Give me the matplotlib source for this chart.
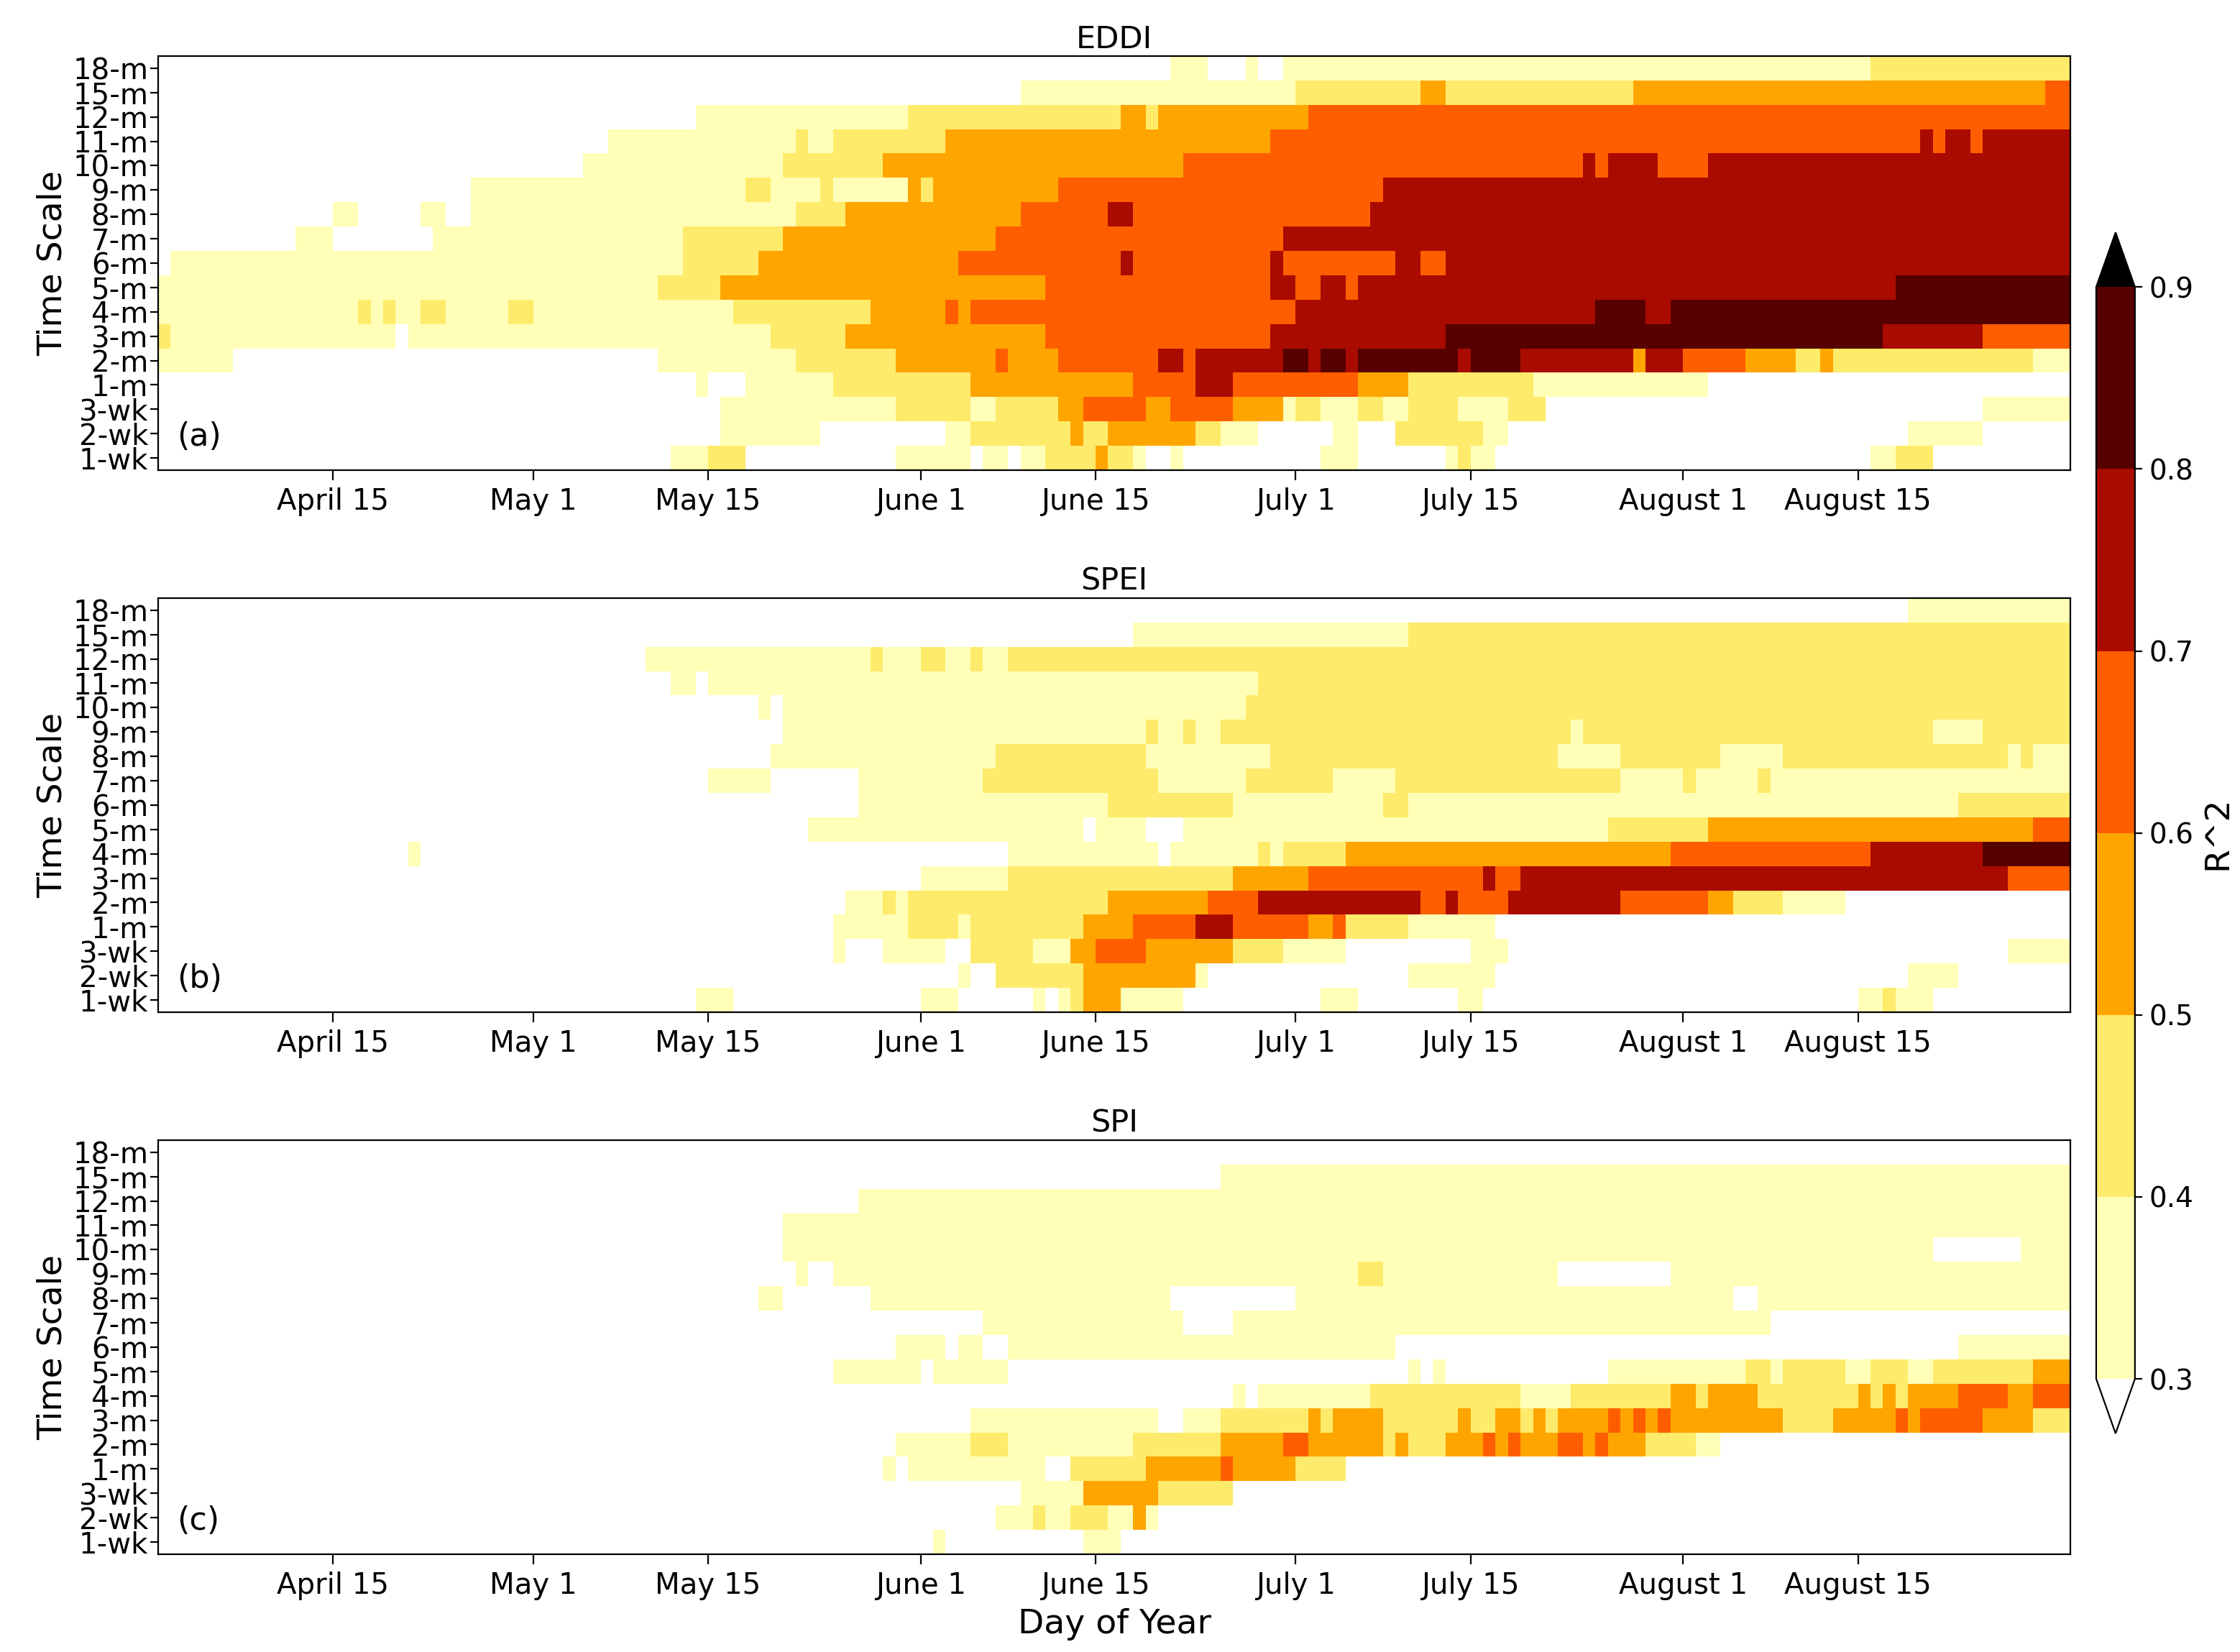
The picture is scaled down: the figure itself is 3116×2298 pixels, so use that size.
import numpy as np
import matplotlib
matplotlib.use("Agg")
import matplotlib.pyplot as plt
from matplotlib.colors import ListedColormap, BoundaryNorm

timescales = ["1-wk", "2-wk", "3-wk", "1-m", "2-m", "3-m", "4-m", "5-m", "6-m",
              "7-m", "8-m", "9-m", "10-m", "11-m", "12-m", "15-m", "18-m"]
tick_labels = ["April 15", "May 1", "May 15", "June 1", "June 15", "July 1",
               "July 15", "August 1", "August 15"]
tick_doy = [105, 121, 135, 152, 166, 182, 196, 213, 227]
first_doy = 91   # April 1
last_doy = 243   # August 31
panel_titles = ["EDDI", "SPEI", "SPI"]
panel_tags = ["(a)", "(b)", "(c)"]
levels = [0.3, 0.4, 0.5, 0.6, 0.7, 0.8, 0.9]

# Runs per timescale (bottom row 1-wk first): (days after April 1 where run starts, R^2)
eddi_runs = [
    [(0,.2),(41.3,.35),(44.2,.45),(47.2,.2),(59.1,.35),(65,.2),(66.2,.35),(68.2,.2),(69.2,.35),(71.2,.45),(74.7,.55),(75.7,.45),(78.1,.35),(79.1,.2),(81.1,.35),(82.1,.2),(93,.35),(96,.2),(102.9,.35),(103.9,.45),(104.9,.35),(106.9,.2),(136.6,.35),(138.6,.45),(141.6,.35),(142.5,.2)],
    [(0,.2),(45,.35),(52.9,.2),(55.8,.35),(56.3,.2),(63.3,.35),(65.2,.45),(73.2,.55),(74.2,.45),(76.1,.55),(83.1,.45),(85.1,.35),(88,.2),(94,.35),(96,.2),(99,.45),(105.9,.35),(107.9,.2),(139.6,.35),(146.5,.2)],
    [(0,.2),(45,.35),(58.8,.45),(65.2,.35),(67.2,.45),(72.2,.55),(74.2,.65),(79.1,.55),(81.1,.65),(86.1,.55),(90,.35),(91,.45),(93,.35),(96,.45),(98,.35),(99.9,.45),(103.9,.35),(107.9,.45),(110.8,.2),(146.5,.35)],
    [(0,.2),(43,.35),(44.4,.2),(46.9,.35),(53.8,.45),(64.7,.55),(78.1,.65),(83.1,.75),(86.1,.65),(96,.55),(99.9,.45),(109.8,.35),(123.7,.2)],
    [(0,.35),(6.3,.2),(40,.35),(50.9,.45),(58.8,.55),(67.2,.65),(67.7,.55),(72.2,.65),(80.1,.75),(82.1,.65),(83.1,.75),(90,.85),(92,.75),(93,.85),(95,.75),(96,.85),(103.9,.75),(104.9,.85),(108.8,.75),(117.8,.55),(118.7,.75),(121.7,.65),(126.7,.55),(130.7,.45),(132.6,.55),(133.6,.45),(150.5,.35)],
    [(0,.45),(1,.35),(19.2,.2),(20.2,.35),(49.4,.45),(55.3,.55),(71.2,.65),(89,.75),(103,.85),(137.6,.75),(145.5,.65)],
    [(0,.35),(16.2,.45),(17.2,.35),(18.2,.45),(19.2,.35),(21.1,.45),(23.1,.35),(28.1,.45),(30.1,.35),(46,.45),(57.3,.55),(63.3,.65),(64.3,.55),(65.3,.65),(91,.75),(114.8,.85),(118.7,.75),(120.7,.85)],
    [(0,.35),(21.6,.45),(22.1,.35),(40,.45),(45,.55),(71.2,.65),(89,.75),(91,.65),(93,.75),(95,.65),(96,.75),(138.6,.85)],
    [(0,.2),(1.3,.35),(42.5,.45),(48.4,.55),(64.2,.65),(77.1,.75),(78.1,.65),(89,.75),(90,.65),(99.4,.75),(101,.65),(103,.75)],
    [(0,.2),(11.2,.35),(14.2,.2),(22.1,.35),(41.5,.45),(50.4,.55),(67.2,.65),(90,.75)],
    [(0,.2),(14.2,.35),(16.2,.2),(21.4,.35),(22.6,.2),(24.8,.35),(51.4,.45),(55.3,.55),(69.2,.65),(76.1,.75),(78.1,.65),(97,.75)],
    [(0,.2),(24.6,.35),(47.4,.45),(49,.35),(53,.45),(54.3,.35),(60,.55),(61,.45),(62,.55),(72,.65),(98,.75)],
    [(0,.2),(34.5,.35),(50,.45),(58,.55),(82,.65),(114,.75),(115,.65),(116,.75),(120,.65),(124,.75)],
    [(0,.2),(35.5,.35),(51,.45),(52,.35),(54,.45),(63,.55),(89,.65),(141,.75),(142,.65),(143,.75),(145,.65),(146,.75)],
    [(0,.2),(43.4,.35),(60,.45),(77,.55),(79,.45),(80,.55),(92,.65)],
    [(0,.2),(69,.35),(91,.45),(101,.55),(103,.45),(118,.55),(151,.65)],
    [(0,.2),(81,.35),(84,.2),(87,.35),(88,.2),(90,.35),(137,.45)],
]

spei_runs = [
    [(0,.2),(43.2,.35),(46.2,.2),(61.1,.35),(64.1,.2),(70,.35),(71,.2),(72,.35),(73,.45),(74.2,.55),(77.1,.35),(82.1,.2),(93,.35),(96,.2),(103.9,.35),(105.9,.2),(135.6,.35),(137.6,.45),(138.6,.35),(141.6,.2)],
    [(0,.2),(64.1,.35),(65,.2),(67,.45),(74.2,.55),(83.1,.35),(84.1,.2),(99.9,.35),(106.9,.2),(139.6,.35),(144.5,.2)],
    [(0,.2),(54.2,.35),(54.9,.2),(58.1,.35),(63.3,.2),(65,.45),(70,.35),(73,.55),(75,.65),(78.9,.55),(86.1,.45),(90,.35),(95,.2),(104.9,.35),(107.9,.2),(148,.35)],
    [(0,.2),(54.1,.35),(60.3,.45),(64.3,.35),(65,.45),(74.2,.55),(78.1,.65),(83.1,.75),(86.1,.65),(92,.55),(94,.65),(95,.45),(99.9,.35),(106.9,.2)],
    [(0,.2),(55.1,.35),(58.3,.45),(58.8,.35),(60.3,.45),(76.1,.55),(84.1,.65),(88,.75),(100.9,.65),(102.9,.75),(103.9,.65),(107.9,.75),(116.8,.65),(123.7,.55),(125.7,.45),(129.7,.35),(134.6,.2)],
    [(0,.2),(61.1,.35),(68,.45),(86.1,.55),(92,.65),(105.9,.75),(106.9,.65),(108.8,.75),(141.6,.85),(142.5,.75),(148.5,.65)],
    [(0,.2),(20.2,.35),(21.1,.2),(68,.35),(80.1,.2),(81.1,.35),(88,.45),(89,.35),(90,.45),(95,.55),(120.7,.65),(136.6,.75),(145.5,.85)],
    [(0,.2),(52.2,.35),(74.2,.2),(75.2,.35),(79.1,.2),(82.1,.35),(115.8,.45),(123.7,.55),(149.5,.65)],
    [(0,.2),(56.1,.35),(75.9,.45),(86.1,.35),(98,.45),(99.9,.35),(144.5,.45)],
    [(0,.2),(44.2,.35),(49.2,.2),(56.1,.35),(66,.45),(79.9,.35),(87,.45),(94,.35),(98.9,.45),(116.8,.35),(122.2,.45),(122.7,.35),(127.7,.45),(128.7,.35)],
    [(0,.2),(49.2,.35),(67.2,.45),(79.1,.35),(89,.45),(111.8,.35),(116.8,.45),(124.7,.35),(129.7,.45),(148,.35),(149,.45),(150.5,.35)],
    [(0,.2),(50.2,.35),(79.1,.45),(80.1,.35),(82.1,.45),(83.1,.35),(85.1,.45),(112.8,.35),(113.8,.45),(142.5,.35),(145.5,.45)],
    [(0,.2),(48.2,.35),(48.9,.2),(50.2,.35),(87,.45)],
    [(0,.2),(41.3,.35),(43,.2),(44.2,.35),(88,.45)],
    [(0,.2),(39.3,.35),(57.3,.45),(58.1,.35),(61.1,.45),(63.1,.35),(65.1,.45),(66,.35),(68,.45)],
    [(0,.2),(78.1,.35),(99.9,.45)],
    [(0,.2),(139.5,.35)],
]

spi_runs = [
    [(0,.2),(62.1,.35),(63.1,.2),(74,.35),(77,.2)],
    [(0,.2),(67,.35),(70,.45),(71,.35),(73,.45),(75.9,.35),(77.9,.55),(78.9,.35),(79.9,.2)],
    [(0,.2),(69,.35),(74,.55),(79.9,.45),(85.9,.2)],
    [(0,.2),(58.1,.35),(59.1,.2),(60.1,.35),(71,.2),(73,.45),(78.9,.55),(84.9,.65),(85.9,.55),(91,.45),(95,.2)],
    [(0,.2),(59.1,.35),(65,.45),(68,.35),(78,.45),(84.9,.55),(89.8,.65),(91.8,.55),(97.9,.45),(98.9,.55),(99.9,.45),(102.9,.55),(105.9,.65),(106.9,.55),(107.9,.65),(108.8,.55),(111.8,.65),(113.8,.55),(114.8,.65),(115.8,.55),(118.7,.45),(122.7,.35),(124.7,.2)],
    [(0,.2),(65,.35),(80.1,.2),(82.1,.35),(85.1,.45),(92,.55),(93,.45),(94,.55),(98,.45),(103.9,.55),(104.9,.45),(106.9,.55),(108.8,.45),(109.8,.55),(110.8,.45),(111.8,.55),(115.8,.65),(116.8,.55),(117.8,.65),(118.7,.55),(119.7,.65),(120.7,.55),(129.7,.45),(133.6,.55),(138.6,.65),(139.6,.55),(140.6,.65),(145.5,.55),(149.5,.45)],
    [(0,.2),(86.1,.35),(87,.2),(88,.35),(97,.45),(108.8,.35),(112.8,.45),(120.7,.55),(122.7,.45),(123.7,.55),(127.7,.45),(135.6,.55),(136.6,.45),(137.6,.55),(138.6,.45),(139.6,.55),(143.5,.65),(148.5,.55),(149.5,.65)],
    [(0,.2),(54.1,.35),(61.1,.2),(62.1,.35),(68,.2),(99.9,.35),(100.9,.2),(101.9,.35),(102.9,.2),(115.8,.35),(126.7,.45),(128.7,.35),(129.7,.45),(134.6,.35),(136.6,.45),(139.6,.35),(142.5,.45),(143.5,.35),(144.5,.45),(149.5,.55)],
    [(0,.2),(59.1,.35),(63.1,.2),(64.1,.35),(66,.2),(68,.35),(98.9,.2),(144.5,.35)],
    [(0,.2),(66,.35),(82.1,.2),(86.1,.35),(128.7,.2)],
    [(0,.2),(48.2,.35),(50.2,.2),(57.1,.35),(81.1,.2),(91,.35),(125.7,.2),(127.7,.35)],
    [(0,.2),(51.2,.35),(52.2,.2),(54.1,.35),(96,.45),(98,.35),(111.8,.2),(120.7,.35)],
    [(0,.2),(50.2,.35),(141.7,.2),(148.7,.35)],
    [(0,.2),(50.2,.35)],
    [(0,.2),(56.1,.35)],
    [(0,.2),(85.1,.35)],
    [(0,.2)],
]

colors = ["#ffffb8", "#ffeb6b", "#ffa500", "#ff5e00", "#aa0b00", "#560000"]
cmap = ListedColormap(colors)
cmap.set_under("white")
cmap.set_over("black")
norm = BoundaryNorm(levels, cmap.N)

ndays = last_doy - first_doy + 1
x_edges = np.arange(first_doy, last_doy + 2)
y_edges = np.arange(len(timescales) + 1)


def runs_to_grid(runs):
    grid = np.zeros((len(runs), ndays))
    for i, row in enumerate(runs):
        for k, (start, val) in enumerate(row):
            end = row[k + 1][0] if k + 1 < len(row) else ndays
            s = int(round(start))
            e = int(round(end))
            grid[i, s:e] = val
    return grid


fig = plt.figure(figsize=(15.58, 11.49), dpi=200)
bottoms = [0.7154, 0.3873, 0.0592]
mesh = None
for p, runs in enumerate([eddi_runs, spei_runs, spi_runs]):
    ax = fig.add_axes([0.0706, bottoms[p], 0.8537, 0.2507])
    grid = runs_to_grid(runs)
    mesh = ax.pcolormesh(x_edges, y_edges, grid, cmap=cmap, norm=norm)
    ax.set_xlim(first_doy, last_doy + 1)
    ax.set_ylim(0, len(timescales))
    ax.set_yticks(np.arange(len(timescales)) + 0.5)
    ax.set_yticklabels(timescales, fontsize=14.5)
    ax.set_xticks(tick_doy)
    ax.set_xticklabels(tick_labels, fontsize=14.5)
    ax.tick_params(axis="y", length=4, pad=1)
    ax.tick_params(axis="x", length=5)
    ax.set_ylabel("Time Scale", fontsize=17, labelpad=2)
    ax.set_title(panel_titles[p], fontsize=15.5, pad=4)
    ax.text(0.01, 0.08, panel_tags[p], transform=ax.transAxes, fontsize=16,
            va="center", ha="left")
    if p == 2:
        ax.set_xlabel("Day of Year", fontsize=17)

cax = fig.add_axes([0.9358, 0.1323, 0.0173, 0.727])
cb = fig.colorbar(mesh, cax=cax, extend="both", ticks=levels)
cb.ax.tick_params(labelsize=14)
cb.set_label("R^2", fontsize=17)
fig.savefig("out.png", dpi=200)
